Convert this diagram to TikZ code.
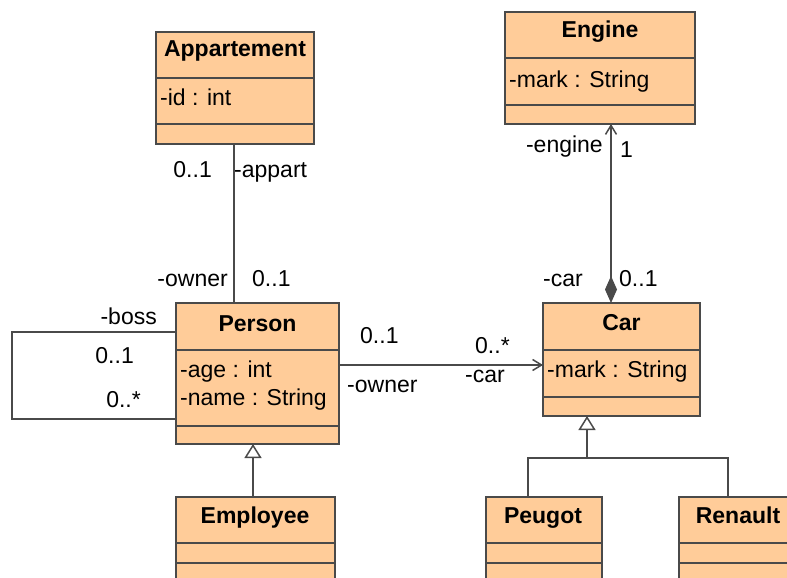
\documentclass[tikz,border=0pt]{standalone}
\usepackage{fontspec}
\setmainfont{Liberation Sans}
\usetikzlibrary{arrows.meta}
\definecolor{peach}{HTML}{FFCC99}
\definecolor{edgec}{HTML}{4A4A4A}
\begin{document}
\begin{tikzpicture}[x=1pt,y=-1pt,
  cls/.style={draw=edgec, fill=peach, line width=1.6pt, anchor=north west, inner sep=0pt, outer sep=0pt},
  sepline/.style={draw=edgec, line width=1.6pt},
  lbl/.style={inner sep=0pt, font=\fontsize{23}{27}\selectfont, text=black},
  ttl/.style={lbl, font=\fontsize{23}{27}\selectfont\bfseries, anchor=base},
  conn/.style={draw=edgec, line width=1.5pt},
  openarrow/.style={-{Straight Barb[length=9pt,width=11pt,line width=1.5pt]}},
  gen/.style={-{Triangle[open,length=14pt,width=17pt,fill=white,line width=1.5pt]}},
  comp/.style={{Diamond[length=27pt,width=12pt,fill=edgec]}-{Straight Barb[length=9pt,width=11pt,line width=1.5pt]}}
]
\useasboundingbox (0,0) rectangle (787,578);
\clip (0,0) rectangle (787,578);
\fill[white] (0,0) rectangle (787,578);

% class boxes
\node[cls, minimum width=158pt, minimum height=112pt] (appart) at (156,32) {};
\node[cls, minimum width=190pt, minimum height=112pt] (engine) at (505,12) {};
\node[cls, minimum width=163pt, minimum height=141pt] (person) at (176,303) {};
\node[cls, minimum width=157pt, minimum height=113pt] (car) at (543,303) {};
\node[cls, minimum width=159pt, minimum height=92pt] (employee) at (176,497) {};
\node[cls, minimum width=116pt, minimum height=92pt] (peugot) at (486,497) {};
\node[cls, minimum width=120pt, minimum height=92pt] (renault) at (679,497) {};

% separators
\coordinate (s1) at (0,78);  \coordinate (s2) at (0,124);
\draw[sepline] (appart.west |- s1) -- (appart.east |- s1);
\draw[sepline] (appart.west |- s2) -- (appart.east |- s2);
\coordinate (s3) at (0,58);  \coordinate (s4) at (0,105);
\draw[sepline] (engine.west |- s3) -- (engine.east |- s3);
\draw[sepline] (engine.west |- s4) -- (engine.east |- s4);
\coordinate (s5) at (0,350); \coordinate (s6) at (0,426); \coordinate (s7) at (0,397);
\draw[sepline] (person.west |- s5) -- (person.east |- s5);
\draw[sepline] (person.west |- s6) -- (person.east |- s6);
\draw[sepline] (car.west |- s5) -- (car.east |- s5);
\draw[sepline] (car.west |- s7) -- (car.east |- s7);
\coordinate (s8) at (0,543); \coordinate (s9) at (0,563);
\foreach \b in {employee,peugot,renault}{
  \draw[sepline] (\b.west |- s8) -- (\b.east |- s8);
  \draw[sepline] (\b.west |- s9) -- (\b.east |- s9);
}

% class texts
\node[ttl] (tappart) at (235,57) {Appartement};
\node[lbl, anchor=base west] (aid) at (160,105) {-id : int};
\node[ttl] (tengine) at (600,38) {Engine};
\node[lbl, anchor=base west] (emark) at (509,87) {-mark : String};
\node[ttl] (tperson) at (257.5,331) {Person};
\node[lbl, anchor=base west] (page) at (180,377) {-age : int};
\node[lbl, anchor=base west] (pname) at (180,405) {-name : String};
\node[ttl] (tcar) at (621.5,330) {Car};
\node[lbl, anchor=base west] (cmark) at (547,377) {-mark : String};
\node[ttl] (temployee) at (255,523) {Employee};
\node[ttl] (tpeugot) at (543,523) {Peugot};
\node[ttl] (trenault) at (738,523) {Renault};

% Appartement -- Person
\coordinate (ax) at (234,0);
\draw[conn] (appart.south -| ax) -- (person.north -| ax);
\node[lbl, anchor=base east] (m1) at (212,177) {0..1};
\node[lbl, anchor=base west] (r1) at (234,177) {-appart};
\node[lbl, anchor=base east] (r2) at (228,286) {-owner};
\node[lbl, anchor=base west] (m2) at (252,286) {0..1};

% Engine -- Car (composition)
\coordinate (ex) at (611,0);
\draw[conn, comp] (car.north -| ex) -- (engine.south -| ex);
\node[lbl, anchor=base east] (r3) at (603,152) {-engine};
\node[lbl, anchor=base west] (m3) at (620,157) {1};
\node[lbl, anchor=base east] (r4) at (583,286) {-car};
\node[lbl, anchor=base west] (m4) at (619,286) {0..1};

% Person -> Car
\coordinate (ay) at (0,365);
\draw[conn, openarrow] (person.east |- ay) -- (car.west |- ay);
\node[lbl, anchor=base west] (m5) at (360,343) {0..1};
\node[lbl, anchor=base west] (m6) at (475,353) {0..*};
\node[lbl, anchor=base west] (r5) at (347,392) {-owner};
\node[lbl, anchor=base west] (r6) at (465,382) {-car};

% self association boss
\coordinate (lc1) at (12,332);
\coordinate (lc2) at (12,419);
\draw[conn] (person.west |- lc1) -- (lc1) -- (lc2) -- (person.west |- lc2);
\node[lbl, anchor=base east] (r7) at (157,324) {-boss};
\node[lbl, anchor=base east] (m7) at (134,363) {0..1};
\node[lbl, anchor=base east] (m8) at (141,407) {0..*};

% Employee -> Person generalization
\coordinate (gx) at (253,0);
\draw[conn, gen] (employee.north -| gx) -- (person.south -| gx);

% Peugot, Renault -> Car generalization
\coordinate (tb) at (587,458);
\coordinate (t1) at (528,0);
\coordinate (t2) at (728,0);
\draw[conn] (peugot.north -| t1) |- (tb);
\draw[conn] (renault.north -| t2) |- (tb);
\draw[conn, gen] (tb) -- (car.south -| tb);
\end{tikzpicture}
\end{document}
